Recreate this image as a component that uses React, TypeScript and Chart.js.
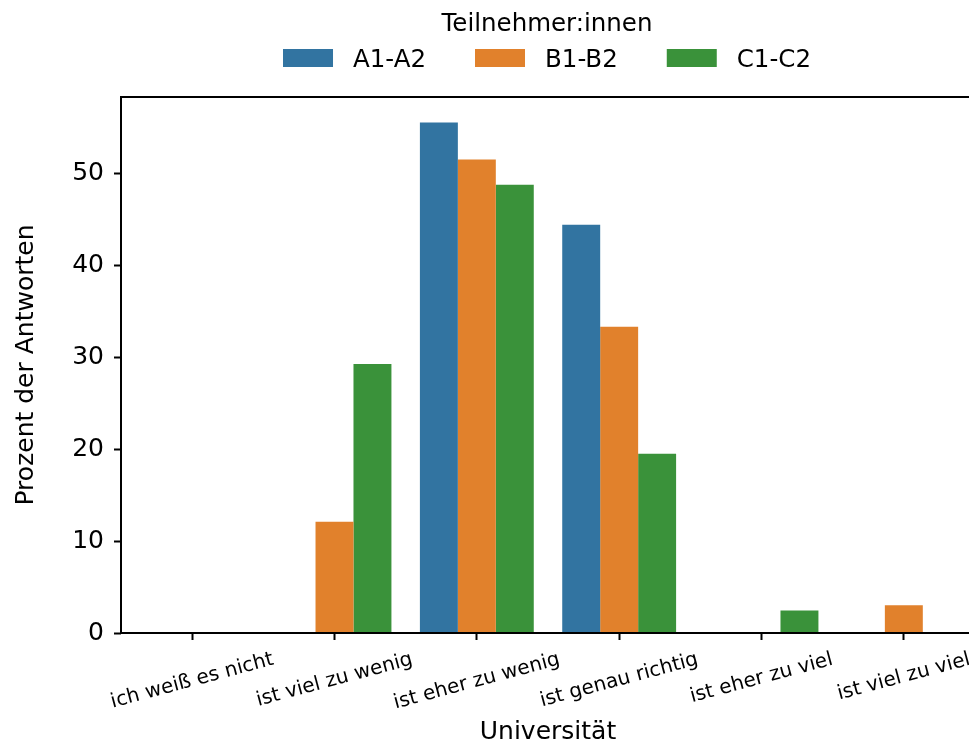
import { useEffect, useRef } from "react";
import { Chart, registerables } from "chart.js";

Chart.register(...registerables);

// Answer categories on the x axis
const categories = [
  "ich weiß es nicht",
  "ist viel zu wenig",
  "ist eher zu wenig",
  "ist genau richtig",
  "ist eher zu viel",
  "ist viel zu viel",
];

// Participant groups (one bar per group and category)
const groupLabels = ["A1-A2", "B1-B2", "C1-C2"];

// Share of answers in percent
const a1a2 = [0, 0, 55.56, 44.44, 0, 0];
const b1b2 = [0, 12.12, 51.52, 33.33, 0, 3.03];
const c1c2 = [0, 29.27, 48.78, 19.51, 2.44, 0];

const yTicks = [0, 10, 20, 30, 40, 50];
const yMax = 58.33;

const legendTitle = "Teilnehmer:innen";
const xTitle = "Universität";
const yTitle = "Prozent der Antworten";

const palette = ["#3274a1", "#e1812c", "#3a923a"];

const FONT = "'DejaVu Sans', 'Liberation Sans', sans-serif";
const INK = "#000000";

const decorPlugin = {
  id: "decor",
  afterDraw(chart: any) {
    const { ctx, chartArea } = chart;
    const xScale = chart.scales.x;
    const { left, right, top, bottom } = chartArea;
    ctx.save();

    // axes frame
    ctx.strokeStyle = INK;
    ctx.lineWidth = 2;
    ctx.beginPath();
    ctx.moveTo(left, top);
    ctx.lineTo(right, top);
    ctx.lineTo(right, bottom);
    ctx.lineTo(left, bottom);
    ctx.closePath();
    ctx.stroke();

    ctx.fillStyle = INK;

    // rotated category labels, centred under each tick
    const fs = 20;
    const ang = (15 * Math.PI) / 180;
    ctx.font = `${fs}px ${FONT}`;
    ctx.textAlign = "center";
    ctx.textBaseline = "middle";
    const labelTop = 648;
    categories.forEach((c, i) => {
      const x = xScale.getPixelForValue(i);
      const w = ctx.measureText(c).width;
      const h = fs * 1.164;
      const H = w * Math.sin(ang) + h * Math.cos(ang);
      const cy = labelTop + H / 2;
      ctx.save();
      ctx.translate(x, cy);
      ctx.rotate(-ang);
      ctx.fillText(c, 0, 0);
      ctx.restore();
    });

    // axis titles
    ctx.font = `25px ${FONT}`;
    ctx.textAlign = "center";
    ctx.textBaseline = "alphabetic";
    ctx.fillText(xTitle, (left + right) / 2, 739);

    ctx.save();
    ctx.translate(33, (top + bottom) / 2);
    ctx.rotate(-Math.PI / 2);
    ctx.textBaseline = "alphabetic";
    ctx.fillText(yTitle, 0, 0);
    ctx.restore();

    // legend with title
    const lfs = 24.5;
    ctx.font = `${lfs}px ${FONT}`;
    const boxW = 50;
    const boxH = 18;
    const gap = 20;
    const spacing = 49;
    const centre = 547;
    ctx.textAlign = "center";
    ctx.fillText(legendTitle, centre, 30.7);

    const widths = chart.data.datasets.map(
      (d: any) => boxW + gap + ctx.measureText(d.label).width
    );
    const total =
      widths.reduce((a: number, b: number) => a + b, 0) +
      spacing * (widths.length - 1);
    let x = centre - total / 2;
    ctx.textAlign = "left";
    chart.data.datasets.forEach((d: any, i: number) => {
      ctx.fillStyle = d.backgroundColor;
      ctx.fillRect(x, 49, boxW, boxH);
      ctx.fillStyle = INK;
      ctx.fillText(d.label, x + boxW + gap, 67);
      x += widths[i] + spacing;
    });

    ctx.restore();
  },
};

export default function App() {
  const canvasRef = useRef<HTMLCanvasElement | null>(null);

  useEffect(() => {
    const canvas = canvasRef.current;
    if (!canvas) return;
    Chart.defaults.font.family = FONT;

    const series = [a1a2, b1b2, c1c2];
    const chart = new Chart(canvas, {
      type: "bar",
      data: {
        labels: categories,
        datasets: groupLabels.map((label, i) => ({
          label,
          data: series[i],
          backgroundColor: palette[i],
          borderWidth: 0,
          categoryPercentage: 0.8,
          barPercentage: 1.0,
        })),
      },
      options: {
        responsive: false,
        animation: false,
        devicePixelRatio: 1,
        layout: { padding: { top: 97, left: 0, right: 0, bottom: 0 } },
        plugins: {
          legend: { display: false },
          tooltip: { enabled: false },
          title: { display: false },
        },
        scales: {
          x: {
            type: "category",
            offset: true,
            border: { display: false },
            grid: {
              display: true,
              offset: false,
              drawOnChartArea: false,
              drawTicks: true,
              tickLength: 7,
              tickColor: INK,
              tickWidth: 2,
            },
            ticks: { display: false },
            afterFit: (scale: any) => {
              scale.height = 113;
            },
          },
          y: {
            type: "linear",
            min: 0,
            max: yMax,
            border: { display: false },
            grid: {
              display: true,
              drawOnChartArea: false,
              drawTicks: true,
              tickLength: 7,
              tickColor: INK,
              tickWidth: 2,
            },
            ticks: {
              stepSize: 10,
              includeBounds: false,
              padding: 10,
              color: INK,
              font: { size: 25, family: FONT },
              callback: (v: any) => (yTicks.includes(Number(v)) ? String(v) : ""),
            },
            afterFit: (scale: any) => {
              scale.width = 121;
            },
          },
        },
      },
      plugins: [decorPlugin],
    });

    return () => chart.destroy();
  }, []);

  return (
    <div
      style={{
        position: "fixed",
        left: 0,
        top: 0,
        width: 969,
        height: 746,
        overflow: "hidden",
        background: "#ffffff",
      }}
    >
      <canvas
        ref={canvasRef}
        width={975}
        height={746}
        style={{ display: "block", width: 975, height: 746 }}
      />
    </div>
  );
}
